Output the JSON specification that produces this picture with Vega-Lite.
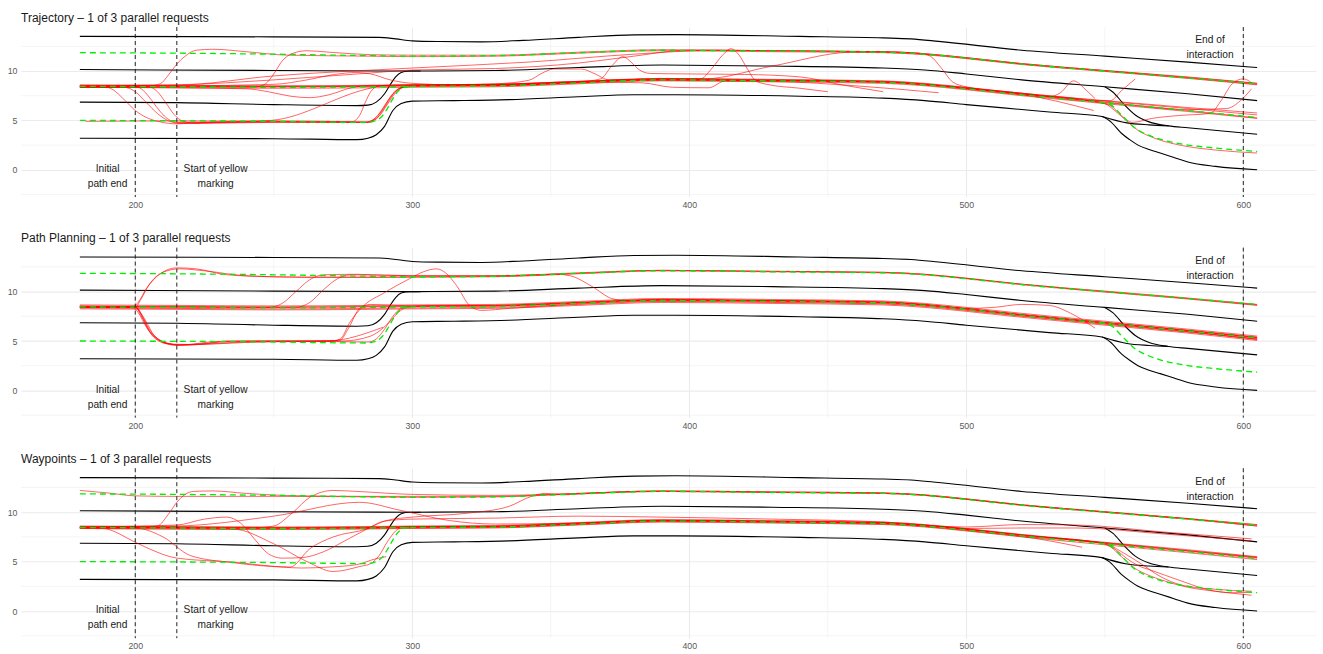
{
"$schema":"https://vega.github.io/schema/vega-lite/v6.json",
"padding":{"left":7,"top":11,"right":7,"bottom":5},
"spacing":21.6,
"config":{"view":{"stroke":null},"font":"Liberation Sans",
"axis":{"domain":false,"ticks":false,"labelColor":"#5a5a5a","labelFontSize":8.8,"gridColor":"#ebebeb","gridWidth":1.1,"title":null},
"title":{"anchor":"start","frame":"group","fontSize":12,"fontWeight":"normal","color":"#1a1a1a","offset":2,"baseline":"alphabetic"}},
"datasets":{
"minorx":[{"x":250},{"x":350},{"x":450},{"x":550}],
"minory":[{"y":-2.5},{"y":2.5},{"y":7.5},{"y":12.5}],
"road":[
{"id":"B1","x":180,"y":13.5},{"id":"B1","x":250,"y":13.45},{"id":"B1","x":288,"y":13.4},{"id":"B1","x":294,"y":13.25},{"id":"B1","x":300,"y":13.05},{"id":"B1","x":310,"y":12.98},{"id":"B1","x":325,"y":12.95},{"id":"B1","x":340,"y":13.1},{"id":"B1","x":360,"y":13.4},{"id":"B1","x":380,"y":13.65},{"id":"B1","x":395,"y":13.68},{"id":"B1","x":440,"y":13.5},{"id":"B1","x":470,"y":13.35},{"id":"B1","x":480,"y":13.25},{"id":"B1","x":490,"y":13.0},{"id":"B1","x":520,"y":12.1},{"id":"B1","x":550,"y":11.5},{"id":"B1","x":580,"y":10.9},{"id":"B1","x":605,"y":10.35},
{"id":"B2","x":180,"y":10.15},{"id":"B2","x":250,"y":10.05},{"id":"B2","x":300,"y":10.0},{"id":"B2","x":330,"y":10.05},{"id":"B2","x":360,"y":10.35},{"id":"B2","x":390,"y":10.6},{"id":"B2","x":430,"y":10.5},{"id":"B2","x":470,"y":10.3},{"id":"B2","x":485,"y":10.1},{"id":"B2","x":500,"y":9.7},{"id":"B2","x":520,"y":9.1},{"id":"B2","x":550,"y":8.4},{"id":"B2","x":580,"y":7.7},{"id":"B2","x":605,"y":7.0},
{"id":"B3","x":180,"y":6.85},{"id":"B3","x":215,"y":6.8},{"id":"B3","x":250,"y":6.6},{"id":"B3","x":280,"y":6.5},{"id":"B3","x":284,"y":6.55},{"id":"B3","x":287,"y":6.85},{"id":"B3","x":290,"y":7.7},{"id":"B3","x":292,"y":8.6},{"id":"B3","x":294,"y":9.4},{"id":"B3","x":296,"y":9.85},{"id":"B3","x":299,"y":10.0},{"id":"B3","x":303,"y":10.0},
{"id":"B4","x":180,"y":3.2},{"id":"B4","x":250,"y":3.15},{"id":"B4","x":280,"y":3.05},{"id":"B4","x":284,"y":3.2},{"id":"B4","x":287,"y":3.55},{"id":"B4","x":290,"y":4.4},{"id":"B4","x":293,"y":6.0},{"id":"B4","x":296,"y":6.7},{"id":"B4","x":300,"y":6.95},{"id":"B4","x":315,"y":7.0},{"id":"B4","x":335,"y":7.1},{"id":"B4","x":360,"y":7.4},{"id":"B4","x":380,"y":7.6},{"id":"B4","x":395,"y":7.6},{"id":"B4","x":440,"y":7.45},{"id":"B4","x":470,"y":7.25},{"id":"B4","x":485,"y":7.0},{"id":"B4","x":500,"y":6.6},{"id":"B4","x":520,"y":6.1},{"id":"B4","x":530,"y":5.85},{"id":"B4","x":549,"y":5.4},{"id":"B4","x":552,"y":4.9},{"id":"B4","x":556,"y":3.7},{"id":"B4","x":559,"y":3.05},{"id":"B4","x":562,"y":2.5},{"id":"B4","x":566,"y":2.05},{"id":"B4","x":570,"y":1.7},{"id":"B4","x":575,"y":1.25},{"id":"B4","x":580,"y":0.8},{"id":"B4","x":590,"y":0.35},{"id":"B4","x":605,"y":0.0},
{"id":"B5","x":550,"y":8.4},{"id":"B5","x":553,"y":7.85},{"id":"B5","x":557,"y":6.6},{"id":"B5","x":561,"y":5.55},{"id":"B5","x":566,"y":4.85},{"id":"B5","x":573,"y":4.45},{"id":"B5","x":580,"y":4.25},{"id":"B5","x":605,"y":3.6},
{"id":"B6","x":549,"y":5.4},{"id":"B6","x":558,"y":4.75},{"id":"B6","x":566,"y":4.55},{"id":"B6","x":573,"y":4.45}
],
"lanes":[
{"id":"G1","x":180,"y":11.85},{"id":"G1","x":215,"y":11.8},{"id":"G1","x":250,"y":11.7},{"id":"G1","x":285,"y":11.55},{"id":"G1","x":300,"y":11.5},{"id":"G1","x":330,"y":11.55},{"id":"G1","x":360,"y":11.85},{"id":"G1","x":390,"y":12.1},{"id":"G1","x":430,"y":12.0},{"id":"G1","x":470,"y":11.9},{"id":"G1","x":485,"y":11.7},{"id":"G1","x":500,"y":11.3},{"id":"G1","x":520,"y":10.7},{"id":"G1","x":550,"y":10.0},{"id":"G1","x":580,"y":9.3},{"id":"G1","x":605,"y":8.7},
{"id":"G2","x":180,"y":8.45},{"id":"G2","x":215,"y":8.4},{"id":"G2","x":250,"y":8.35},{"id":"G2","x":285,"y":8.4},{"id":"G2","x":300,"y":8.45},{"id":"G2","x":330,"y":8.5},{"id":"G2","x":360,"y":8.8},{"id":"G2","x":390,"y":9.1},{"id":"G2","x":430,"y":9.0},{"id":"G2","x":470,"y":8.85},{"id":"G2","x":485,"y":8.6},{"id":"G2","x":500,"y":8.2},{"id":"G2","x":520,"y":7.6},{"id":"G2","x":550,"y":6.8},{"id":"G2","x":580,"y":6.0},{"id":"G2","x":605,"y":5.3},
{"id":"G3","x":180,"y":5.0},{"id":"G3","x":250,"y":4.9},{"id":"G3","x":283,"y":4.8},{"id":"G3","x":286,"y":4.9},{"id":"G3","x":289,"y":5.4},{"id":"G3","x":291,"y":6.2},{"id":"G3","x":293,"y":7.2},{"id":"G3","x":295,"y":8.0},{"id":"G3","x":297,"y":8.35},{"id":"G3","x":300,"y":8.45},
{"id":"G4","x":548,"y":6.85},{"id":"G4","x":552,"y":6.6},{"id":"G4","x":556,"y":5.55},{"id":"G4","x":561,"y":4.2},{"id":"G4","x":565,"y":3.6},{"id":"G4","x":570,"y":3.1},{"id":"G4","x":578,"y":2.6},{"id":"G4","x":590,"y":2.2},{"id":"G4","x":605,"y":1.85}
],
"vlines":[{"x":200},{"x":215},{"x":600}],
"notes":[{"x":190,"y":0.09,"t":"Initial\npath end"},{"x":229,"y":0.09,"t":"Start of yellow\nmarking"},{"x":588,"y":13.09,"t":"End of\ninteraction"}],
"traj":[
{"p":1,"id":"a","x":180,"y":8.6},{"p":1,"id":"a","x":215,"y":8.55},{"p":1,"id":"a","x":250,"y":8.5},{"p":1,"id":"a","x":285,"y":8.55},{"p":1,"id":"a","x":300,"y":8.6},{"p":1,"id":"a","x":330,"y":8.65},{"p":1,"id":"a","x":360,"y":8.95},{"p":1,"id":"a","x":390,"y":9.25},{"p":1,"id":"a","x":430,"y":9.15},{"p":1,"id":"a","x":470,"y":9.0},{"p":1,"id":"a","x":485,"y":8.75},{"p":1,"id":"a","x":500,"y":8.35},{"p":1,"id":"a","x":520,"y":7.75},{"p":1,"id":"a","x":550,"y":6.95},{"p":1,"id":"a","x":580,"y":6.2},{"p":1,"id":"a","x":605,"y":5.55},
{"p":1,"id":"b","x":180,"y":8.35},{"p":1,"id":"b","x":215,"y":8.3},{"p":1,"id":"b","x":250,"y":8.25},{"p":1,"id":"b","x":285,"y":8.3},{"p":1,"id":"b","x":300,"y":8.35},{"p":1,"id":"b","x":330,"y":8.4},{"p":1,"id":"b","x":360,"y":8.7},{"p":1,"id":"b","x":390,"y":9.0},{"p":1,"id":"b","x":430,"y":8.9},{"p":1,"id":"b","x":470,"y":8.75},{"p":1,"id":"b","x":485,"y":8.5},{"p":1,"id":"b","x":500,"y":8.1},{"p":1,"id":"b","x":520,"y":7.5},{"p":1,"id":"b","x":550,"y":6.7},{"p":1,"id":"b","x":580,"y":5.9},{"p":1,"id":"b","x":605,"y":5.2},
{"p":1,"id":"c","x":180,"y":8.5},{"p":1,"id":"c","x":215,"y":8.45},{"p":1,"id":"c","x":250,"y":8.4},{"p":1,"id":"c","x":285,"y":8.45},{"p":1,"id":"c","x":300,"y":8.5},{"p":1,"id":"c","x":330,"y":8.55},{"p":1,"id":"c","x":360,"y":8.85},{"p":1,"id":"c","x":390,"y":9.15},{"p":1,"id":"c","x":430,"y":9.05},{"p":1,"id":"c","x":470,"y":8.9},{"p":1,"id":"c","x":485,"y":8.65},{"p":1,"id":"c","x":500,"y":8.3},{"p":1,"id":"c","x":520,"y":7.75},{"p":1,"id":"c","x":550,"y":7.0},{"p":1,"id":"c","x":580,"y":6.3},{"p":1,"id":"c","x":605,"y":5.75},
{"p":1,"id":"d","x":180,"y":8.5},{"p":1,"id":"d","x":205,"y":8.5},{"p":1,"id":"d","x":209,"y":8.7},{"p":1,"id":"d","x":212,"y":9.6},{"p":1,"id":"d","x":215,"y":10.7},{"p":1,"id":"d","x":218,"y":11.5},{"p":1,"id":"d","x":222,"y":12.1},{"p":1,"id":"d","x":228,"y":12.2},{"p":1,"id":"d","x":240,"y":11.95},{"p":1,"id":"d","x":255,"y":11.6},{"p":1,"id":"d","x":285,"y":11.5},{"p":1,"id":"d","x":300,"y":11.45},{"p":1,"id":"d","x":330,"y":11.5},{"p":1,"id":"d","x":360,"y":11.8},{"p":1,"id":"d","x":390,"y":12.05},{"p":1,"id":"d","x":430,"y":11.95},{"p":1,"id":"d","x":470,"y":11.85},{"p":1,"id":"d","x":485,"y":11.65},{"p":1,"id":"d","x":500,"y":11.25},{"p":1,"id":"d","x":520,"y":10.65},{"p":1,"id":"d","x":550,"y":9.95},{"p":1,"id":"d","x":580,"y":9.25},{"p":1,"id":"d","x":605,"y":8.6},
{"p":1,"id":"e","x":180,"y":8.4},{"p":1,"id":"e","x":215,"y":8.35},{"p":1,"id":"e","x":243,"y":8.35},{"p":1,"id":"e","x":247,"y":8.7},{"p":1,"id":"e","x":250,"y":9.7},{"p":1,"id":"e","x":253,"y":11.0},{"p":1,"id":"e","x":257,"y":11.8},{"p":1,"id":"e","x":262,"y":12.05},{"p":1,"id":"e","x":270,"y":11.9},{"p":1,"id":"e","x":285,"y":11.65},{"p":1,"id":"e","x":300,"y":11.6},{"p":1,"id":"e","x":330,"y":11.6},{"p":1,"id":"e","x":360,"y":11.9},{"p":1,"id":"e","x":390,"y":12.15},{"p":1,"id":"e","x":430,"y":12.05},{"p":1,"id":"e","x":470,"y":11.95},{"p":1,"id":"e","x":485,"y":11.75},{"p":1,"id":"e","x":500,"y":11.35},{"p":1,"id":"e","x":520,"y":10.75},{"p":1,"id":"e","x":550,"y":10.05},{"p":1,"id":"e","x":580,"y":9.35},{"p":1,"id":"e","x":605,"y":8.75},
{"p":1,"id":"f","x":180,"y":8.45},{"p":1,"id":"f","x":188,"y":8.45},{"p":1,"id":"f","x":192,"y":8.1},{"p":1,"id":"f","x":196,"y":7.1},{"p":1,"id":"f","x":200,"y":6.0},{"p":1,"id":"f","x":204,"y":5.3},{"p":1,"id":"f","x":209,"y":4.85},{"p":1,"id":"f","x":215,"y":4.65},{"p":1,"id":"f","x":225,"y":4.8},{"p":1,"id":"f","x":250,"y":4.95},{"p":1,"id":"f","x":270,"y":4.9},{"p":1,"id":"f","x":283,"y":4.85},{"p":1,"id":"f","x":287,"y":5.2},{"p":1,"id":"f","x":290,"y":6.3},{"p":1,"id":"f","x":293,"y":7.6},{"p":1,"id":"f","x":296,"y":8.3},{"p":1,"id":"f","x":300,"y":8.5},{"p":1,"id":"f","x":330,"y":8.55},{"p":1,"id":"f","x":360,"y":8.85},{"p":1,"id":"f","x":390,"y":9.15},{"p":1,"id":"f","x":430,"y":9.05},{"p":1,"id":"f","x":470,"y":8.9},{"p":1,"id":"f","x":485,"y":8.6},{"p":1,"id":"f","x":500,"y":8.2},{"p":1,"id":"f","x":520,"y":7.6},{"p":1,"id":"f","x":550,"y":6.8},{"p":1,"id":"f","x":580,"y":6.0},{"p":1,"id":"f","x":605,"y":5.25},
{"p":1,"id":"g","x":180,"y":8.45},{"p":1,"id":"g","x":200,"y":8.45},{"p":1,"id":"g","x":203,"y":8.0},{"p":1,"id":"g","x":206,"y":7.0},{"p":1,"id":"g","x":209,"y":5.9},{"p":1,"id":"g","x":212,"y":5.1},{"p":1,"id":"g","x":216,"y":4.75},{"p":1,"id":"g","x":225,"y":4.75},{"p":1,"id":"g","x":250,"y":4.85},{"p":1,"id":"g","x":284,"y":4.8},{"p":1,"id":"g","x":287,"y":5.3},{"p":1,"id":"g","x":290,"y":6.5},{"p":1,"id":"g","x":293,"y":7.7},{"p":1,"id":"g","x":296,"y":8.3},{"p":1,"id":"g","x":300,"y":8.45},{"p":1,"id":"g","x":330,"y":8.5},{"p":1,"id":"g","x":360,"y":8.8},{"p":1,"id":"g","x":390,"y":9.1},{"p":1,"id":"g","x":430,"y":9.0},{"p":1,"id":"g","x":470,"y":8.85},{"p":1,"id":"g","x":485,"y":8.6},{"p":1,"id":"g","x":500,"y":8.2},{"p":1,"id":"g","x":520,"y":7.6},{"p":1,"id":"g","x":545,"y":6.95},{"p":1,"id":"g","x":550,"y":6.7},{"p":1,"id":"g","x":554,"y":5.9},{"p":1,"id":"g","x":558,"y":4.9},{"p":1,"id":"g","x":562,"y":4.0},{"p":1,"id":"g","x":568,"y":3.2},{"p":1,"id":"g","x":578,"y":2.45},{"p":1,"id":"g","x":590,"y":2.0},{"p":1,"id":"g","x":605,"y":1.7},
{"p":1,"id":"h","x":180,"y":8.4},{"p":1,"id":"h","x":205,"y":8.4},{"p":1,"id":"h","x":208,"y":7.9},{"p":1,"id":"h","x":211,"y":6.8},{"p":1,"id":"h","x":214,"y":5.6},{"p":1,"id":"h","x":217,"y":4.95},{"p":1,"id":"h","x":222,"y":4.7},{"p":1,"id":"h","x":250,"y":4.8},{"p":1,"id":"h","x":283,"y":4.8},{"p":1,"id":"h","x":286,"y":5.1},{"p":1,"id":"h","x":289,"y":6.0},{"p":1,"id":"h","x":292,"y":7.3},{"p":1,"id":"h","x":295,"y":8.2},{"p":1,"id":"h","x":300,"y":8.5},{"p":1,"id":"h","x":330,"y":8.6},{"p":1,"id":"h","x":360,"y":8.9},{"p":1,"id":"h","x":390,"y":9.2},{"p":1,"id":"h","x":404,"y":9.2},{"p":1,"id":"h","x":408,"y":10.2},{"p":1,"id":"h","x":412,"y":11.6},{"p":1,"id":"h","x":415,"y":12.25},{"p":1,"id":"h","x":418,"y":11.6},{"p":1,"id":"h","x":421,"y":10.2},{"p":1,"id":"h","x":424,"y":9.0},{"p":1,"id":"h","x":428,"y":8.65},{"p":1,"id":"h","x":440,"y":8.25},{"p":1,"id":"h","x":450,"y":7.9},
{"p":1,"id":"i","x":182,"y":4.9},{"p":1,"id":"i","x":215,"y":4.95},{"p":1,"id":"i","x":250,"y":4.9},{"p":1,"id":"i","x":270,"y":4.85},{"p":1,"id":"i","x":284,"y":4.8},{"p":1,"id":"i","x":288,"y":5.4},{"p":1,"id":"i","x":291,"y":6.6},{"p":1,"id":"i","x":294,"y":7.8},{"p":1,"id":"i","x":297,"y":8.35},{"p":1,"id":"i","x":305,"y":8.55},{"p":1,"id":"i","x":330,"y":8.6},{"p":1,"id":"i","x":360,"y":8.9},{"p":1,"id":"i","x":368,"y":9.2},{"p":1,"id":"i","x":372,"y":10.5},{"p":1,"id":"i","x":376,"y":11.45},{"p":1,"id":"i","x":379,"y":10.9},{"p":1,"id":"i","x":382,"y":10.1},{"p":1,"id":"i","x":386,"y":9.75},{"p":1,"id":"i","x":400,"y":9.7},{"p":1,"id":"i","x":420,"y":9.65},{"p":1,"id":"i","x":440,"y":9.4},{"p":1,"id":"i","x":455,"y":8.6},{"p":1,"id":"i","x":470,"y":7.9},
{"p":1,"id":"j","x":180,"y":8.35},{"p":1,"id":"j","x":196,"y":8.35},{"p":1,"id":"j","x":200,"y":7.9},{"p":1,"id":"j","x":204,"y":6.8},{"p":1,"id":"j","x":208,"y":5.7},{"p":1,"id":"j","x":212,"y":4.95},{"p":1,"id":"j","x":216,"y":4.7},{"p":1,"id":"j","x":230,"y":4.8},{"p":1,"id":"j","x":249,"y":5.0},{"p":1,"id":"j","x":284,"y":8.2},{"p":1,"id":"j","x":290,"y":8.55},{"p":1,"id":"j","x":300,"y":8.6},{"p":1,"id":"j","x":330,"y":8.65},{"p":1,"id":"j","x":360,"y":8.9},{"p":1,"id":"j","x":383,"y":8.8},{"p":1,"id":"j","x":394,"y":8.35},{"p":1,"id":"j","x":407,"y":8.3},{"p":1,"id":"j","x":413,"y":9.0},{"p":1,"id":"j","x":430,"y":9.05},{"p":1,"id":"j","x":470,"y":8.9},{"p":1,"id":"j","x":485,"y":8.65},{"p":1,"id":"j","x":500,"y":8.25},{"p":1,"id":"j","x":520,"y":7.65},{"p":1,"id":"j","x":546,"y":6.0},
{"p":1,"id":"k","x":215,"y":4.8},{"p":1,"id":"k","x":250,"y":4.85},{"p":1,"id":"k","x":278,"y":4.85},{"p":1,"id":"k","x":281,"y":5.5},{"p":1,"id":"k","x":283,"y":6.8},{"p":1,"id":"k","x":285,"y":7.9},{"p":1,"id":"k","x":288,"y":8.5},{"p":1,"id":"k","x":300,"y":8.6},{"p":1,"id":"k","x":330,"y":8.65},{"p":1,"id":"k","x":360,"y":8.95},{"p":1,"id":"k","x":390,"y":9.2},{"p":1,"id":"k","x":405,"y":9.2},{"p":1,"id":"k","x":430,"y":10.5},{"p":1,"id":"k","x":458,"y":11.9},{"p":1,"id":"k","x":470,"y":11.95},{"p":1,"id":"k","x":485,"y":11.75},{"p":1,"id":"k","x":500,"y":11.35},{"p":1,"id":"k","x":520,"y":10.75},{"p":1,"id":"k","x":550,"y":10.05},{"p":1,"id":"k","x":580,"y":9.4},{"p":1,"id":"k","x":605,"y":8.75},
{"p":1,"id":"l","x":180,"y":8.5},{"p":1,"id":"l","x":215,"y":8.5},{"p":1,"id":"l","x":250,"y":8.65},{"p":1,"id":"l","x":262,"y":9.1},{"p":1,"id":"l","x":272,"y":9.65},{"p":1,"id":"l","x":280,"y":9.85},{"p":1,"id":"l","x":285,"y":9.7},{"p":1,"id":"l","x":292,"y":9.1},{"p":1,"id":"l","x":300,"y":8.75},{"p":1,"id":"l","x":315,"y":8.6},{"p":1,"id":"l","x":330,"y":8.7},{"p":1,"id":"l","x":342,"y":9.05},{"p":1,"id":"l","x":347,"y":9.8},{"p":1,"id":"l","x":351,"y":10.2},{"p":1,"id":"l","x":361,"y":10.2},{"p":1,"id":"l","x":366,"y":9.7},{"p":1,"id":"l","x":371,"y":9.1},{"p":1,"id":"l","x":390,"y":9.05},{"p":1,"id":"l","x":430,"y":8.95},{"p":1,"id":"l","x":460,"y":8.5},{"p":1,"id":"l","x":490,"y":7.8},
{"p":1,"id":"m","x":180,"y":8.35},{"p":1,"id":"m","x":215,"y":8.3},{"p":1,"id":"m","x":240,"y":8.2},{"p":1,"id":"m","x":248,"y":7.9},{"p":1,"id":"m","x":256,"y":7.45},{"p":1,"id":"m","x":263,"y":7.3},{"p":1,"id":"m","x":270,"y":7.6},{"p":1,"id":"m","x":278,"y":8.3},{"p":1,"id":"m","x":285,"y":8.55},{"p":1,"id":"m","x":300,"y":8.5},{"p":1,"id":"m","x":330,"y":8.5},{"p":1,"id":"m","x":360,"y":8.8},{"p":1,"id":"m","x":390,"y":9.1},{"p":1,"id":"m","x":430,"y":9.0},{"p":1,"id":"m","x":470,"y":8.85},{"p":1,"id":"m","x":485,"y":8.6},{"p":1,"id":"m","x":500,"y":8.2},{"p":1,"id":"m","x":520,"y":7.65},{"p":1,"id":"m","x":530,"y":7.4},{"p":1,"id":"m","x":534,"y":7.8},{"p":1,"id":"m","x":538.7,"y":9.0},{"p":1,"id":"m","x":543.5,"y":8.0},{"p":1,"id":"m","x":546.5,"y":7.2},
{"p":1,"id":"n","x":180,"y":8.5},{"p":1,"id":"n","x":215,"y":8.6},{"p":1,"id":"n","x":250,"y":9.1},{"p":1,"id":"n","x":285,"y":9.8},{"p":1,"id":"n","x":300,"y":10.1},{"p":1,"id":"n","x":330,"y":10.25},{"p":1,"id":"n","x":360,"y":10.8},{"p":1,"id":"n","x":380,"y":11.5},{"p":1,"id":"n","x":399,"y":12.1},{"p":1,"id":"n","x":430,"y":12.05},{"p":1,"id":"n","x":470,"y":11.95},{"p":1,"id":"n","x":483,"y":11.8},{"p":1,"id":"n","x":487,"y":11.5},{"p":1,"id":"n","x":491,"y":10.3},{"p":1,"id":"n","x":495,"y":8.9},{"p":1,"id":"n","x":500,"y":8.4},{"p":1,"id":"n","x":520,"y":7.75},{"p":1,"id":"n","x":545,"y":7.0},{"p":1,"id":"n","x":552,"y":7.0},{"p":1,"id":"n","x":556,"y":8.0},{"p":1,"id":"n","x":561,"y":9.2},
{"p":1,"id":"o","x":180,"y":8.4},{"p":1,"id":"o","x":215,"y":8.45},{"p":1,"id":"o","x":250,"y":8.4},{"p":1,"id":"o","x":285,"y":8.45},{"p":1,"id":"o","x":300,"y":8.5},{"p":1,"id":"o","x":330,"y":8.55},{"p":1,"id":"o","x":360,"y":8.85},{"p":1,"id":"o","x":390,"y":9.15},{"p":1,"id":"o","x":430,"y":9.05},{"p":1,"id":"o","x":470,"y":8.9},{"p":1,"id":"o","x":485,"y":8.65},{"p":1,"id":"o","x":500,"y":8.25},{"p":1,"id":"o","x":520,"y":7.65},{"p":1,"id":"o","x":545,"y":6.95},{"p":1,"id":"o","x":552,"y":6.5},{"p":1,"id":"o","x":556,"y":5.5},{"p":1,"id":"o","x":560,"y":4.8},{"p":1,"id":"o","x":567,"y":5.2},{"p":1,"id":"o","x":577,"y":5.5},{"p":1,"id":"o","x":588,"y":5.7},{"p":1,"id":"o","x":592,"y":7.0},{"p":1,"id":"o","x":596,"y":8.7},{"p":1,"id":"o","x":600,"y":9.2},{"p":1,"id":"o","x":603,"y":8.8},
{"p":1,"id":"pp","x":215,"y":8.45},{"p":1,"id":"pp","x":250,"y":8.45},{"p":1,"id":"pp","x":285,"y":8.5},{"p":1,"id":"pp","x":300,"y":8.55},{"p":1,"id":"pp","x":330,"y":8.6},{"p":1,"id":"pp","x":360,"y":8.9},{"p":1,"id":"pp","x":390,"y":9.2},{"p":1,"id":"pp","x":430,"y":9.1},{"p":1,"id":"pp","x":470,"y":8.95},{"p":1,"id":"pp","x":485,"y":8.7},{"p":1,"id":"pp","x":500,"y":8.3},{"p":1,"id":"pp","x":520,"y":7.7},{"p":1,"id":"pp","x":550,"y":6.85},{"p":1,"id":"pp","x":580,"y":6.1},{"p":1,"id":"pp","x":594,"y":6.2},{"p":1,"id":"pp","x":599,"y":7.0},{"p":1,"id":"pp","x":603,"y":8.2},
{"p":1,"id":"q","x":180,"y":8.45},{"p":1,"id":"q","x":215,"y":8.55},{"p":1,"id":"q","x":250,"y":9.5},{"p":1,"id":"q","x":300,"y":10.3},{"p":1,"id":"q","x":342,"y":10.9},{"p":1,"id":"q","x":380,"y":11.7},{"p":1,"id":"q","x":410,"y":12.1},{"p":1,"id":"q","x":430,"y":12.05},{"p":1,"id":"q","x":470,"y":11.9},{"p":1,"id":"q","x":485,"y":11.7},{"p":1,"id":"q","x":500,"y":11.3},{"p":1,"id":"q","x":520,"y":10.7},{"p":1,"id":"q","x":550,"y":10.0},{"p":1,"id":"q","x":580,"y":9.3},{"p":1,"id":"q","x":605,"y":8.65},

{"p":2,"id":"a","x":180,"y":8.65},{"p":2,"id":"a","x":215,"y":8.6},{"p":2,"id":"a","x":250,"y":8.55},{"p":2,"id":"a","x":285,"y":8.6},{"p":2,"id":"a","x":300,"y":8.65},{"p":2,"id":"a","x":330,"y":8.7},{"p":2,"id":"a","x":360,"y":9.0},{"p":2,"id":"a","x":390,"y":9.3},{"p":2,"id":"a","x":430,"y":9.2},{"p":2,"id":"a","x":470,"y":9.05},{"p":2,"id":"a","x":485,"y":8.8},{"p":2,"id":"a","x":500,"y":8.4},{"p":2,"id":"a","x":520,"y":7.8},{"p":2,"id":"a","x":550,"y":7.0},{"p":2,"id":"a","x":580,"y":6.2},{"p":2,"id":"a","x":605,"y":5.5},
{"p":2,"id":"b","x":180,"y":8.5},{"p":2,"id":"b","x":215,"y":8.45},{"p":2,"id":"b","x":250,"y":8.4},{"p":2,"id":"b","x":285,"y":8.45},{"p":2,"id":"b","x":300,"y":8.5},{"p":2,"id":"b","x":330,"y":8.55},{"p":2,"id":"b","x":360,"y":8.85},{"p":2,"id":"b","x":390,"y":9.15},{"p":2,"id":"b","x":430,"y":9.05},{"p":2,"id":"b","x":470,"y":8.9},{"p":2,"id":"b","x":485,"y":8.65},{"p":2,"id":"b","x":500,"y":8.25},{"p":2,"id":"b","x":520,"y":7.65},{"p":2,"id":"b","x":550,"y":6.85},{"p":2,"id":"b","x":580,"y":6.05},{"p":2,"id":"b","x":605,"y":5.35},
{"p":2,"id":"c","x":180,"y":8.35},{"p":2,"id":"c","x":215,"y":8.3},{"p":2,"id":"c","x":250,"y":8.25},{"p":2,"id":"c","x":285,"y":8.3},{"p":2,"id":"c","x":300,"y":8.35},{"p":2,"id":"c","x":330,"y":8.4},{"p":2,"id":"c","x":360,"y":8.7},{"p":2,"id":"c","x":390,"y":9.0},{"p":2,"id":"c","x":430,"y":8.9},{"p":2,"id":"c","x":470,"y":8.75},{"p":2,"id":"c","x":485,"y":8.5},{"p":2,"id":"c","x":500,"y":8.1},{"p":2,"id":"c","x":520,"y":7.5},{"p":2,"id":"c","x":550,"y":6.7},{"p":2,"id":"c","x":580,"y":5.9},{"p":2,"id":"c","x":605,"y":5.2},
{"p":2,"id":"d","x":180,"y":8.25},{"p":2,"id":"d","x":215,"y":8.2},{"p":2,"id":"d","x":250,"y":8.15},{"p":2,"id":"d","x":285,"y":8.2},{"p":2,"id":"d","x":300,"y":8.25},{"p":2,"id":"d","x":330,"y":8.3},{"p":2,"id":"d","x":360,"y":8.6},{"p":2,"id":"d","x":390,"y":8.9},{"p":2,"id":"d","x":430,"y":8.8},{"p":2,"id":"d","x":470,"y":8.65},{"p":2,"id":"d","x":485,"y":8.4},{"p":2,"id":"d","x":500,"y":8.0},{"p":2,"id":"d","x":520,"y":7.4},{"p":2,"id":"d","x":550,"y":6.6},{"p":2,"id":"d","x":580,"y":5.8},{"p":2,"id":"d","x":605,"y":5.05},
{"p":2,"id":"e","x":180,"y":8.5},{"p":2,"id":"e","x":199,"y":8.45},{"p":2,"id":"e","x":201,"y":8.9},{"p":2,"id":"e","x":204,"y":10.3},{"p":2,"id":"e","x":209,"y":11.8},{"p":2,"id":"e","x":215,"y":12.4},{"p":2,"id":"e","x":222,"y":12.3},{"p":2,"id":"e","x":233,"y":11.7},{"p":2,"id":"e","x":250,"y":11.5},{"p":2,"id":"e","x":270,"y":11.45},{"p":2,"id":"e","x":285,"y":11.45},{"p":2,"id":"e","x":300,"y":11.5},{"p":2,"id":"e","x":330,"y":11.55},{"p":2,"id":"e","x":360,"y":11.85},{"p":2,"id":"e","x":390,"y":12.15},{"p":2,"id":"e","x":430,"y":12.05},{"p":2,"id":"e","x":470,"y":11.95},{"p":2,"id":"e","x":485,"y":11.75},{"p":2,"id":"e","x":500,"y":11.35},{"p":2,"id":"e","x":520,"y":10.75},{"p":2,"id":"e","x":550,"y":10.0},{"p":2,"id":"e","x":580,"y":9.3},{"p":2,"id":"e","x":605,"y":8.65},
{"p":2,"id":"f","x":180,"y":8.4},{"p":2,"id":"f","x":200,"y":8.4},{"p":2,"id":"f","x":202,"y":9.2},{"p":2,"id":"f","x":205,"y":10.7},{"p":2,"id":"f","x":210,"y":11.95},{"p":2,"id":"f","x":216,"y":12.3},{"p":2,"id":"f","x":225,"y":12.1},{"p":2,"id":"f","x":240,"y":11.6},{"p":2,"id":"f","x":260,"y":11.45},{"p":2,"id":"f","x":285,"y":11.45},{"p":2,"id":"f","x":300,"y":11.45},{"p":2,"id":"f","x":330,"y":11.5},{"p":2,"id":"f","x":360,"y":11.8},{"p":2,"id":"f","x":390,"y":12.1},{"p":2,"id":"f","x":430,"y":12.0},{"p":2,"id":"f","x":470,"y":11.9},{"p":2,"id":"f","x":485,"y":11.7},{"p":2,"id":"f","x":500,"y":11.3},{"p":2,"id":"f","x":520,"y":10.7},{"p":2,"id":"f","x":550,"y":9.95},{"p":2,"id":"f","x":580,"y":9.25},{"p":2,"id":"f","x":605,"y":8.6},
{"p":2,"id":"g","x":180,"y":8.45},{"p":2,"id":"g","x":199,"y":8.4},{"p":2,"id":"g","x":201,"y":7.9},{"p":2,"id":"g","x":204,"y":6.4},{"p":2,"id":"g","x":209,"y":5.05},{"p":2,"id":"g","x":215,"y":4.55},{"p":2,"id":"g","x":225,"y":4.7},{"p":2,"id":"g","x":233,"y":5.0},{"p":2,"id":"g","x":250,"y":5.0},{"p":2,"id":"g","x":270,"y":4.95},{"p":2,"id":"g","x":284,"y":4.9},{"p":2,"id":"g","x":287,"y":5.2},{"p":2,"id":"g","x":290,"y":6.2},{"p":2,"id":"g","x":293,"y":7.5},{"p":2,"id":"g","x":296,"y":8.3},{"p":2,"id":"g","x":300,"y":8.5},{"p":2,"id":"g","x":330,"y":8.6},{"p":2,"id":"g","x":360,"y":8.9},{"p":2,"id":"g","x":390,"y":9.2},{"p":2,"id":"g","x":430,"y":9.1},{"p":2,"id":"g","x":470,"y":8.95},{"p":2,"id":"g","x":485,"y":8.7},{"p":2,"id":"g","x":500,"y":8.3},{"p":2,"id":"g","x":520,"y":7.7},{"p":2,"id":"g","x":550,"y":6.9},{"p":2,"id":"g","x":580,"y":6.1},{"p":2,"id":"g","x":605,"y":5.4},
{"p":2,"id":"h","x":180,"y":8.5},{"p":2,"id":"h","x":200,"y":8.45},{"p":2,"id":"h","x":202,"y":7.6},{"p":2,"id":"h","x":205,"y":6.0},{"p":2,"id":"h","x":210,"y":4.9},{"p":2,"id":"h","x":216,"y":4.6},{"p":2,"id":"h","x":230,"y":4.95},{"p":2,"id":"h","x":250,"y":5.0},{"p":2,"id":"h","x":270,"y":5.0},{"p":2,"id":"h","x":274,"y":5.1},{"p":2,"id":"h","x":277,"y":6.3},{"p":2,"id":"h","x":281,"y":8.3},{"p":2,"id":"h","x":285,"y":8.7},{"p":2,"id":"h","x":300,"y":8.55},{"p":2,"id":"h","x":330,"y":8.55},{"p":2,"id":"h","x":360,"y":8.85},{"p":2,"id":"h","x":390,"y":9.15},{"p":2,"id":"h","x":430,"y":9.05},{"p":2,"id":"h","x":470,"y":8.9},{"p":2,"id":"h","x":485,"y":8.65},{"p":2,"id":"h","x":500,"y":8.25},{"p":2,"id":"h","x":520,"y":7.6},{"p":2,"id":"h","x":550,"y":6.8},{"p":2,"id":"h","x":580,"y":5.95},{"p":2,"id":"h","x":605,"y":5.15},
{"p":2,"id":"i","x":180,"y":8.4},{"p":2,"id":"i","x":200,"y":8.4},{"p":2,"id":"i","x":203,"y":7.2},{"p":2,"id":"i","x":206,"y":5.6},{"p":2,"id":"i","x":211,"y":4.75},{"p":2,"id":"i","x":217,"y":4.6},{"p":2,"id":"i","x":240,"y":4.9},{"p":2,"id":"i","x":260,"y":4.95},{"p":2,"id":"i","x":270,"y":5.0},{"p":2,"id":"i","x":289.5,"y":6.4},
{"p":2,"id":"j","x":180,"y":8.45},{"p":2,"id":"j","x":200,"y":8.45},{"p":2,"id":"j","x":203,"y":7.4},{"p":2,"id":"j","x":207,"y":5.5},{"p":2,"id":"j","x":212,"y":4.7},{"p":2,"id":"j","x":220,"y":4.65},{"p":2,"id":"j","x":250,"y":4.95},{"p":2,"id":"j","x":275,"y":5.0},{"p":2,"id":"j","x":285,"y":5.5},{"p":2,"id":"j","x":291,"y":6.7},{"p":2,"id":"j","x":295,"y":7.9},{"p":2,"id":"j","x":298,"y":8.4},{"p":2,"id":"j","x":305,"y":8.55},{"p":2,"id":"j","x":330,"y":8.55},{"p":2,"id":"j","x":360,"y":8.85},{"p":2,"id":"j","x":390,"y":9.15},{"p":2,"id":"j","x":430,"y":9.05},{"p":2,"id":"j","x":470,"y":8.9},{"p":2,"id":"j","x":485,"y":8.65},{"p":2,"id":"j","x":500,"y":8.25},{"p":2,"id":"j","x":520,"y":7.65},{"p":2,"id":"j","x":550,"y":6.85},{"p":2,"id":"j","x":580,"y":6.05},{"p":2,"id":"j","x":605,"y":5.3},
{"p":2,"id":"k","x":180,"y":8.5},{"p":2,"id":"k","x":215,"y":8.45},{"p":2,"id":"k","x":248,"y":8.4},{"p":2,"id":"k","x":253,"y":8.8},{"p":2,"id":"k","x":258,"y":10.0},{"p":2,"id":"k","x":263,"y":11.2},{"p":2,"id":"k","x":268,"y":11.7},{"p":2,"id":"k","x":280,"y":11.75},{"p":2,"id":"k","x":300,"y":11.6},{"p":2,"id":"k","x":330,"y":11.6},{"p":2,"id":"k","x":360,"y":11.9},{"p":2,"id":"k","x":390,"y":12.15},{"p":2,"id":"k","x":430,"y":12.05},{"p":2,"id":"k","x":470,"y":11.95},{"p":2,"id":"k","x":485,"y":11.75},{"p":2,"id":"k","x":500,"y":11.35},{"p":2,"id":"k","x":520,"y":10.75},{"p":2,"id":"k","x":550,"y":10.05},{"p":2,"id":"k","x":580,"y":9.35},{"p":2,"id":"k","x":605,"y":8.7},
{"p":2,"id":"l","x":180,"y":8.4},{"p":2,"id":"l","x":215,"y":8.35},{"p":2,"id":"l","x":258,"y":8.4},{"p":2,"id":"l","x":263,"y":8.9},{"p":2,"id":"l","x":268,"y":10.2},{"p":2,"id":"l","x":273,"y":11.3},{"p":2,"id":"l","x":278,"y":11.7},{"p":2,"id":"l","x":300,"y":11.6},{"p":2,"id":"l","x":330,"y":11.6},{"p":2,"id":"l","x":352,"y":11.75},{"p":2,"id":"l","x":357,"y":11.6},{"p":2,"id":"l","x":365,"y":10.5},{"p":2,"id":"l","x":372,"y":9.3},{"p":2,"id":"l","x":378,"y":9.05},{"p":2,"id":"l","x":390,"y":9.15},{"p":2,"id":"l","x":430,"y":9.05},{"p":2,"id":"l","x":470,"y":8.9},{"p":2,"id":"l","x":485,"y":8.65},{"p":2,"id":"l","x":500,"y":8.25},{"p":2,"id":"l","x":520,"y":7.65},{"p":2,"id":"l","x":550,"y":6.85},{"p":2,"id":"l","x":580,"y":6.05},{"p":2,"id":"l","x":605,"y":5.35},
{"p":2,"id":"m","x":180,"y":8.45},{"p":2,"id":"m","x":200,"y":8.45},{"p":2,"id":"m","x":202,"y":7.8},{"p":2,"id":"m","x":205,"y":6.2},{"p":2,"id":"m","x":210,"y":4.95},{"p":2,"id":"m","x":216,"y":4.6},{"p":2,"id":"m","x":235,"y":4.95},{"p":2,"id":"m","x":260,"y":5.0},{"p":2,"id":"m","x":272,"y":5.05},{"p":2,"id":"m","x":274,"y":5.2},{"p":2,"id":"m","x":277.5,"y":6.9},{"p":2,"id":"m","x":282,"y":8.45},{"p":2,"id":"m","x":290,"y":9.9},{"p":2,"id":"m","x":299,"y":11.3},{"p":2,"id":"m","x":304,"y":12.0},{"p":2,"id":"m","x":308.7,"y":12.3},{"p":2,"id":"m","x":312,"y":11.9},{"p":2,"id":"m","x":316,"y":10.6},{"p":2,"id":"m","x":320.7,"y":8.6},{"p":2,"id":"m","x":325,"y":8.1},{"p":2,"id":"m","x":335,"y":8.3},{"p":2,"id":"m","x":360,"y":8.75},{"p":2,"id":"m","x":390,"y":9.05},{"p":2,"id":"m","x":430,"y":8.95},{"p":2,"id":"m","x":470,"y":8.8},{"p":2,"id":"m","x":485,"y":8.55},{"p":2,"id":"m","x":500,"y":8.15},{"p":2,"id":"m","x":520,"y":7.55},{"p":2,"id":"m","x":550,"y":6.75},{"p":2,"id":"m","x":580,"y":5.95},{"p":2,"id":"m","x":605,"y":5.2},
{"p":2,"id":"n","x":180,"y":8.55},{"p":2,"id":"n","x":215,"y":8.5},{"p":2,"id":"n","x":250,"y":8.45},{"p":2,"id":"n","x":285,"y":8.5},{"p":2,"id":"n","x":300,"y":8.55},{"p":2,"id":"n","x":330,"y":8.6},{"p":2,"id":"n","x":360,"y":8.9},{"p":2,"id":"n","x":390,"y":9.2},{"p":2,"id":"n","x":430,"y":9.1},{"p":2,"id":"n","x":470,"y":8.95},{"p":2,"id":"n","x":485,"y":8.7},{"p":2,"id":"n","x":500,"y":8.3},{"p":2,"id":"n","x":510,"y":8.4},{"p":2,"id":"n","x":520,"y":8.7},{"p":2,"id":"n","x":530,"y":8.6},{"p":2,"id":"n","x":537,"y":7.9},{"p":2,"id":"n","x":546.5,"y":6.3},

{"p":3,"id":"a","x":180,"y":8.6},{"p":3,"id":"a","x":215,"y":8.55},{"p":3,"id":"a","x":250,"y":8.5},{"p":3,"id":"a","x":285,"y":8.55},{"p":3,"id":"a","x":300,"y":8.6},{"p":3,"id":"a","x":330,"y":8.65},{"p":3,"id":"a","x":360,"y":8.95},{"p":3,"id":"a","x":390,"y":9.25},{"p":3,"id":"a","x":430,"y":9.15},{"p":3,"id":"a","x":470,"y":9.0},{"p":3,"id":"a","x":485,"y":8.75},{"p":3,"id":"a","x":500,"y":8.35},{"p":3,"id":"a","x":520,"y":7.75},{"p":3,"id":"a","x":550,"y":6.95},{"p":3,"id":"a","x":580,"y":6.2},{"p":3,"id":"a","x":605,"y":5.5},
{"p":3,"id":"b","x":180,"y":8.35},{"p":3,"id":"b","x":215,"y":8.3},{"p":3,"id":"b","x":250,"y":8.25},{"p":3,"id":"b","x":285,"y":8.3},{"p":3,"id":"b","x":300,"y":8.35},{"p":3,"id":"b","x":330,"y":8.4},{"p":3,"id":"b","x":360,"y":8.7},{"p":3,"id":"b","x":390,"y":9.0},{"p":3,"id":"b","x":430,"y":8.9},{"p":3,"id":"b","x":470,"y":8.75},{"p":3,"id":"b","x":485,"y":8.5},{"p":3,"id":"b","x":500,"y":8.1},{"p":3,"id":"b","x":520,"y":7.5},{"p":3,"id":"b","x":550,"y":6.7},{"p":3,"id":"b","x":580,"y":5.9},{"p":3,"id":"b","x":605,"y":5.2},
{"p":3,"id":"c","x":180,"y":8.45},{"p":3,"id":"c","x":215,"y":8.4},{"p":3,"id":"c","x":250,"y":8.35},{"p":3,"id":"c","x":285,"y":8.4},{"p":3,"id":"c","x":300,"y":8.45},{"p":3,"id":"c","x":330,"y":8.5},{"p":3,"id":"c","x":360,"y":8.8},{"p":3,"id":"c","x":390,"y":9.1},{"p":3,"id":"c","x":430,"y":9.0},{"p":3,"id":"c","x":470,"y":8.85},{"p":3,"id":"c","x":485,"y":8.6},{"p":3,"id":"c","x":500,"y":8.2},{"p":3,"id":"c","x":520,"y":7.55},{"p":3,"id":"c","x":530,"y":7.1},{"p":3,"id":"c","x":541.8,"y":6.45},
{"p":3,"id":"d","x":180,"y":12.2},{"p":3,"id":"d","x":190,"y":11.95},{"p":3,"id":"d","x":200,"y":11.65},{"p":3,"id":"d","x":215,"y":11.6},{"p":3,"id":"d","x":250,"y":11.6},{"p":3,"id":"d","x":285,"y":11.55},{"p":3,"id":"d","x":300,"y":11.5},{"p":3,"id":"d","x":330,"y":11.55},{"p":3,"id":"d","x":360,"y":11.85},{"p":3,"id":"d","x":390,"y":12.1},{"p":3,"id":"d","x":430,"y":12.0},{"p":3,"id":"d","x":470,"y":11.9},{"p":3,"id":"d","x":485,"y":11.7},{"p":3,"id":"d","x":500,"y":11.3},{"p":3,"id":"d","x":520,"y":10.7},{"p":3,"id":"d","x":550,"y":10.0},{"p":3,"id":"d","x":580,"y":9.3},{"p":3,"id":"d","x":605,"y":8.6},
{"p":3,"id":"e","x":180,"y":8.5},{"p":3,"id":"e","x":205,"y":8.5},{"p":3,"id":"e","x":208,"y":8.6},{"p":3,"id":"e","x":212,"y":9.8},{"p":3,"id":"e","x":215,"y":11.0},{"p":3,"id":"e","x":218,"y":11.8},{"p":3,"id":"e","x":221,"y":12.1},{"p":3,"id":"e","x":228,"y":12.15},{"p":3,"id":"e","x":240,"y":11.9},{"p":3,"id":"e","x":260,"y":11.65},{"p":3,"id":"e","x":285,"y":11.6},{"p":3,"id":"e","x":300,"y":11.6},{"p":3,"id":"e","x":330,"y":11.6},{"p":3,"id":"e","x":360,"y":11.9},{"p":3,"id":"e","x":390,"y":12.15},{"p":3,"id":"e","x":430,"y":12.05},{"p":3,"id":"e","x":470,"y":11.95},{"p":3,"id":"e","x":485,"y":11.75},{"p":3,"id":"e","x":500,"y":11.35},{"p":3,"id":"e","x":520,"y":10.75},{"p":3,"id":"e","x":550,"y":10.05},{"p":3,"id":"e","x":580,"y":9.35},{"p":3,"id":"e","x":605,"y":8.75},
{"p":3,"id":"f","x":180,"y":8.45},{"p":3,"id":"f","x":188,"y":8.4},{"p":3,"id":"f","x":191,"y":8.2},{"p":3,"id":"f","x":199,"y":7.1},{"p":3,"id":"f","x":205,"y":6.3},{"p":3,"id":"f","x":215,"y":5.35},{"p":3,"id":"f","x":235,"y":4.95},{"p":3,"id":"f","x":253,"y":4.45},{"p":3,"id":"f","x":260,"y":4.35},{"p":3,"id":"f","x":270,"y":4.45},{"p":3,"id":"f","x":280,"y":4.7},{"p":3,"id":"f","x":287,"y":5.3},{"p":3,"id":"f","x":290.6,"y":5.5},
{"p":3,"id":"g","x":180,"y":8.5},{"p":3,"id":"g","x":215,"y":8.6},{"p":3,"id":"g","x":250,"y":9.6},{"p":3,"id":"g","x":281,"y":11.0},{"p":3,"id":"g","x":295.5,"y":10.2},{"p":3,"id":"g","x":313.5,"y":9.15},{"p":3,"id":"g","x":330,"y":8.8},{"p":3,"id":"g","x":360,"y":8.9},{"p":3,"id":"g","x":390,"y":9.15},{"p":3,"id":"g","x":430,"y":9.05},{"p":3,"id":"g","x":470,"y":8.9},{"p":3,"id":"g","x":485,"y":8.65},{"p":3,"id":"g","x":500,"y":8.25},{"p":3,"id":"g","x":520,"y":7.65},{"p":3,"id":"g","x":550,"y":6.85},{"p":3,"id":"g","x":580,"y":6.05},{"p":3,"id":"g","x":605,"y":5.35},
{"p":3,"id":"h","x":180,"y":8.4},{"p":3,"id":"h","x":215,"y":8.4},{"p":3,"id":"h","x":245,"y":8.45},{"p":3,"id":"h","x":250,"y":8.6},{"p":3,"id":"h","x":257,"y":10.0},{"p":3,"id":"h","x":263,"y":11.5},{"p":3,"id":"h","x":271.5,"y":12.2},{"p":3,"id":"h","x":280,"y":12.1},{"p":3,"id":"h","x":300,"y":11.8},{"p":3,"id":"h","x":330,"y":11.7},{"p":3,"id":"h","x":360,"y":11.9},{"p":3,"id":"h","x":390,"y":12.15},{"p":3,"id":"h","x":430,"y":12.05},{"p":3,"id":"h","x":470,"y":11.95},{"p":3,"id":"h","x":485,"y":11.75},{"p":3,"id":"h","x":500,"y":11.35},{"p":3,"id":"h","x":520,"y":10.75},{"p":3,"id":"h","x":550,"y":10.05},{"p":3,"id":"h","x":580,"y":9.35},{"p":3,"id":"h","x":605,"y":8.7},
{"p":3,"id":"i","x":180,"y":8.5},{"p":3,"id":"i","x":215,"y":8.7},{"p":3,"id":"i","x":225,"y":9.3},{"p":3,"id":"i","x":233,"y":9.5},{"p":3,"id":"i","x":238,"y":8.9},{"p":3,"id":"i","x":243,"y":7.3},{"p":3,"id":"i","x":248,"y":5.8},{"p":3,"id":"i","x":253,"y":5.35},{"p":3,"id":"i","x":260,"y":5.4},{"p":3,"id":"i","x":268,"y":6.0},{"p":3,"id":"i","x":275,"y":7.0},{"p":3,"id":"i","x":283,"y":8.2},{"p":3,"id":"i","x":290,"y":9.1},{"p":3,"id":"i","x":300,"y":9.3},{"p":3,"id":"i","x":330,"y":9.4},{"p":3,"id":"i","x":360,"y":9.6},{"p":3,"id":"i","x":390,"y":9.5},{"p":3,"id":"i","x":430,"y":9.3},{"p":3,"id":"i","x":470,"y":9.0},{"p":3,"id":"i","x":485,"y":8.7},{"p":3,"id":"i","x":500,"y":8.3},{"p":3,"id":"i","x":520,"y":7.7},{"p":3,"id":"i","x":550,"y":6.9},{"p":3,"id":"i","x":580,"y":6.1},{"p":3,"id":"i","x":605,"y":5.4},
{"p":3,"id":"j","x":180,"y":8.35},{"p":3,"id":"j","x":215,"y":8.3},{"p":3,"id":"j","x":235,"y":8.3},{"p":3,"id":"j","x":250,"y":6.8},{"p":3,"id":"j","x":262,"y":5.0},{"p":3,"id":"j","x":271.5,"y":4.0},{"p":3,"id":"j","x":281,"y":4.5},{"p":3,"id":"j","x":285,"y":4.8},{"p":3,"id":"j","x":288,"y":5.6},{"p":3,"id":"j","x":291,"y":7.0},{"p":3,"id":"j","x":294,"y":8.1},{"p":3,"id":"j","x":297,"y":8.5},{"p":3,"id":"j","x":305,"y":8.55},{"p":3,"id":"j","x":330,"y":8.55},{"p":3,"id":"j","x":360,"y":8.85},{"p":3,"id":"j","x":390,"y":9.15},{"p":3,"id":"j","x":430,"y":9.05},{"p":3,"id":"j","x":470,"y":8.9},{"p":3,"id":"j","x":485,"y":8.65},{"p":3,"id":"j","x":500,"y":8.25},{"p":3,"id":"j","x":520,"y":7.65},{"p":3,"id":"j","x":548,"y":6.9},{"p":3,"id":"j","x":552,"y":6.5},{"p":3,"id":"j","x":556,"y":5.5},{"p":3,"id":"j","x":561,"y":4.3},{"p":3,"id":"j","x":566,"y":3.6},{"p":3,"id":"j","x":572,"y":3.0},{"p":3,"id":"j","x":580,"y":2.4},{"p":3,"id":"j","x":590,"y":2.0},{"p":3,"id":"j","x":603,"y":1.6},
{"p":3,"id":"k","x":180,"y":8.45},{"p":3,"id":"k","x":200,"y":8.4},{"p":3,"id":"k","x":210,"y":7.5},{"p":3,"id":"k","x":220,"y":5.6},{"p":3,"id":"k","x":235,"y":4.9},{"p":3,"id":"k","x":255.9,"y":4.45},{"p":3,"id":"k","x":263,"y":6.3},{"p":3,"id":"k","x":271.5,"y":7.5},{"p":3,"id":"k","x":283.5,"y":8.3},{"p":3,"id":"k","x":290.6,"y":9.15},{"p":3,"id":"k","x":300,"y":9.5},{"p":3,"id":"k","x":320,"y":9.9},{"p":3,"id":"k","x":335,"y":10.6},{"p":3,"id":"k","x":343,"y":11.6},{"p":3,"id":"k","x":348,"y":11.9},{"p":3,"id":"k","x":355,"y":11.75},{"p":3,"id":"k","x":360,"y":11.85},{"p":3,"id":"k","x":390,"y":12.1},{"p":3,"id":"k","x":430,"y":12.0},{"p":3,"id":"k","x":470,"y":11.9},{"p":3,"id":"k","x":485,"y":11.7},{"p":3,"id":"k","x":500,"y":11.3},{"p":3,"id":"k","x":520,"y":10.7},{"p":3,"id":"k","x":550,"y":10.0},{"p":3,"id":"k","x":580,"y":9.3},{"p":3,"id":"k","x":605,"y":8.6},
{"p":3,"id":"l","x":180,"y":8.4},{"p":3,"id":"l","x":215,"y":8.45},{"p":3,"id":"l","x":250,"y":8.4},{"p":3,"id":"l","x":285,"y":8.45},{"p":3,"id":"l","x":300,"y":8.5},{"p":3,"id":"l","x":330,"y":8.55},{"p":3,"id":"l","x":360,"y":8.85},{"p":3,"id":"l","x":390,"y":9.15},{"p":3,"id":"l","x":430,"y":9.05},{"p":3,"id":"l","x":470,"y":8.9},{"p":3,"id":"l","x":485,"y":8.65},{"p":3,"id":"l","x":500,"y":8.5},{"p":3,"id":"l","x":520,"y":8.75},{"p":3,"id":"l","x":540,"y":8.7},{"p":3,"id":"l","x":571,"y":8.0},{"p":3,"id":"l","x":603,"y":7.3},
{"p":3,"id":"m","x":180,"y":8.5},{"p":3,"id":"m","x":215,"y":8.5},{"p":3,"id":"m","x":250,"y":8.45},{"p":3,"id":"m","x":285,"y":8.5},{"p":3,"id":"m","x":300,"y":8.55},{"p":3,"id":"m","x":330,"y":8.6},{"p":3,"id":"m","x":360,"y":8.9},{"p":3,"id":"m","x":390,"y":9.2},{"p":3,"id":"m","x":430,"y":9.1},{"p":3,"id":"m","x":470,"y":8.95},{"p":3,"id":"m","x":485,"y":8.7},{"p":3,"id":"m","x":500,"y":8.35},{"p":3,"id":"m","x":520,"y":8.4},{"p":3,"id":"m","x":540,"y":8.4},{"p":3,"id":"m","x":571,"y":7.8},{"p":3,"id":"m","x":603,"y":7.1},
{"p":3,"id":"n","x":180,"y":8.45},{"p":3,"id":"n","x":215,"y":8.45},{"p":3,"id":"n","x":250,"y":8.4},{"p":3,"id":"n","x":285,"y":8.45},{"p":3,"id":"n","x":300,"y":8.5},{"p":3,"id":"n","x":330,"y":8.55},{"p":3,"id":"n","x":360,"y":8.85},{"p":3,"id":"n","x":390,"y":9.15},{"p":3,"id":"n","x":430,"y":9.05},{"p":3,"id":"n","x":470,"y":8.9},{"p":3,"id":"n","x":485,"y":8.65},{"p":3,"id":"n","x":500,"y":8.25},{"p":3,"id":"n","x":520,"y":7.65},{"p":3,"id":"n","x":545,"y":7.0},{"p":3,"id":"n","x":550,"y":6.8},{"p":3,"id":"n","x":554,"y":6.2},{"p":3,"id":"n","x":558,"y":5.3},{"p":3,"id":"n","x":562,"y":4.6},{"p":3,"id":"n","x":567,"y":4.1},{"p":3,"id":"n","x":572,"y":3.6},{"p":3,"id":"n","x":579,"y":2.9},{"p":3,"id":"n","x":588,"y":2.1},{"p":3,"id":"n","x":596,"y":1.85},{"p":3,"id":"n","x":603,"y":1.9},
{"p":3,"id":"o","x":215,"y":8.35},{"p":3,"id":"o","x":250,"y":8.3},{"p":3,"id":"o","x":285,"y":8.35},{"p":3,"id":"o","x":300,"y":8.4},{"p":3,"id":"o","x":330,"y":8.45},{"p":3,"id":"o","x":360,"y":8.75},{"p":3,"id":"o","x":390,"y":9.05},{"p":3,"id":"o","x":430,"y":8.95},{"p":3,"id":"o","x":470,"y":8.8},{"p":3,"id":"o","x":485,"y":8.55},{"p":3,"id":"o","x":500,"y":8.15},{"p":3,"id":"o","x":520,"y":7.55},{"p":3,"id":"o","x":550,"y":6.85},{"p":3,"id":"o","x":556,"y":6.0},{"p":3,"id":"o","x":563,"y":4.8},{"p":3,"id":"o","x":570,"y":3.5},{"p":3,"id":"o","x":578,"y":2.6},{"p":3,"id":"o","x":590,"y":2.2},{"p":3,"id":"o","x":603,"y":2.0},
{"p":3,"id":"pp","x":180,"y":8.5},{"p":3,"id":"pp","x":215,"y":8.45},{"p":3,"id":"pp","x":250,"y":8.4},{"p":3,"id":"pp","x":285,"y":8.45},{"p":3,"id":"pp","x":300,"y":8.5},{"p":3,"id":"pp","x":330,"y":8.55},{"p":3,"id":"pp","x":360,"y":8.85},{"p":3,"id":"pp","x":390,"y":9.15},{"p":3,"id":"pp","x":430,"y":9.05},{"p":3,"id":"pp","x":470,"y":8.9},{"p":3,"id":"pp","x":485,"y":8.65},{"p":3,"id":"pp","x":500,"y":8.3},{"p":3,"id":"pp","x":520,"y":7.7},{"p":3,"id":"pp","x":550,"y":6.9},{"p":3,"id":"pp","x":580,"y":6.1},{"p":3,"id":"pp","x":605,"y":5.45}
]},
"vconcat":[
{"width":1295,"height":170,"title":"Trajectory – 1 of 3 parallel requests",
"layer":[
{"data":{"name":"minorx"},"mark":{"type":"rule","color":"#ebebeb","strokeWidth":0.55},"encoding":{"x":{"field":"x","type":"quantitative"}}},
{"data":{"name":"minory"},"mark":{"type":"rule","color":"#ebebeb","strokeWidth":0.55},"encoding":{"y":{"field":"y","type":"quantitative"}}},
{"data":{"name":"road"},"mark":{"type":"line","color":"#000000","strokeWidth":1.1,"interpolate":"monotone"},
"encoding":{"x":{"field":"x","type":"quantitative","scale":{"domain":[158.75,626.25],"nice":false,"zero":false},"axis":{"values":[200,300,400,500,600],"labelPadding":3.5}},
"y":{"field":"y","type":"quantitative","scale":{"domain":[-2.75,14.45],"nice":false,"zero":false},"axis":{"values":[0,5,10],"labelPadding":4}},
"detail":{"field":"id"}}},
{"data":{"name":"traj"},"transform":[{"filter":"datum.p == 1"}],"mark":{"type":"line","color":"#ff0000","opacity":0.6,"strokeWidth":1,"interpolate":"monotone"},
"encoding":{"x":{"field":"x","type":"quantitative"},"y":{"field":"y","type":"quantitative"},"detail":{"field":"id"}}},
{"data":{"name":"lanes"},"mark":{"type":"line","color":"#00ee00","strokeWidth":1.3,"strokeDash":[6,4],"interpolate":"monotone"},
"encoding":{"x":{"field":"x","type":"quantitative"},"y":{"field":"y","type":"quantitative"},"detail":{"field":"id"}}},
{"data":{"name":"vlines"},"mark":{"type":"rule","color":"#222222","strokeWidth":1,"strokeDash":[4,3]},
"encoding":{"x":{"field":"x","type":"quantitative"}}},
{"data":{"name":"notes"},"mark":{"type":"text","fontSize":10.2,"lineHeight":15,"lineBreak":"\n","align":"center","baseline":"middle","color":"#1a1a1a"},
"encoding":{"x":{"field":"x","type":"quantitative"},"y":{"field":"y","type":"quantitative"},"text":{"field":"t"}}}
]},
{"width":1295,"height":170,"title":"Path Planning – 1 of 3 parallel requests",
"layer":[
{"data":{"name":"minorx"},"mark":{"type":"rule","color":"#ebebeb","strokeWidth":0.55},"encoding":{"x":{"field":"x","type":"quantitative"}}},
{"data":{"name":"minory"},"mark":{"type":"rule","color":"#ebebeb","strokeWidth":0.55},"encoding":{"y":{"field":"y","type":"quantitative"}}},
{"data":{"name":"road"},"mark":{"type":"line","color":"#000000","strokeWidth":1.1,"interpolate":"monotone"},
"encoding":{"x":{"field":"x","type":"quantitative","scale":{"domain":[158.75,626.25],"nice":false,"zero":false},"axis":{"values":[200,300,400,500,600],"labelPadding":3.5}},
"y":{"field":"y","type":"quantitative","scale":{"domain":[-2.75,14.45],"nice":false,"zero":false},"axis":{"values":[0,5,10],"labelPadding":4}},
"detail":{"field":"id"}}},
{"data":{"name":"traj"},"transform":[{"filter":"datum.p == 2"}],"mark":{"type":"line","color":"#ff0000","opacity":0.6,"strokeWidth":1,"interpolate":"monotone"},
"encoding":{"x":{"field":"x","type":"quantitative"},"y":{"field":"y","type":"quantitative"},"detail":{"field":"id"}}},
{"data":{"name":"lanes"},"mark":{"type":"line","color":"#00ee00","strokeWidth":1.3,"strokeDash":[6,4],"interpolate":"monotone"},
"encoding":{"x":{"field":"x","type":"quantitative"},"y":{"field":"y","type":"quantitative"},"detail":{"field":"id"}}},
{"data":{"name":"vlines"},"mark":{"type":"rule","color":"#222222","strokeWidth":1,"strokeDash":[4,3]},
"encoding":{"x":{"field":"x","type":"quantitative"}}},
{"data":{"name":"notes"},"mark":{"type":"text","fontSize":10.2,"lineHeight":15,"lineBreak":"\n","align":"center","baseline":"middle","color":"#1a1a1a"},
"encoding":{"x":{"field":"x","type":"quantitative"},"y":{"field":"y","type":"quantitative"},"text":{"field":"t"}}}
]},
{"width":1295,"height":170,"title":"Waypoints – 1 of 3 parallel requests",
"layer":[
{"data":{"name":"minorx"},"mark":{"type":"rule","color":"#ebebeb","strokeWidth":0.55},"encoding":{"x":{"field":"x","type":"quantitative"}}},
{"data":{"name":"minory"},"mark":{"type":"rule","color":"#ebebeb","strokeWidth":0.55},"encoding":{"y":{"field":"y","type":"quantitative"}}},
{"data":{"name":"road"},"mark":{"type":"line","color":"#000000","strokeWidth":1.1,"interpolate":"monotone"},
"encoding":{"x":{"field":"x","type":"quantitative","scale":{"domain":[158.75,626.25],"nice":false,"zero":false},"axis":{"values":[200,300,400,500,600],"labelPadding":3.5}},
"y":{"field":"y","type":"quantitative","scale":{"domain":[-2.75,14.45],"nice":false,"zero":false},"axis":{"values":[0,5,10],"labelPadding":4}},
"detail":{"field":"id"}}},
{"data":{"name":"traj"},"transform":[{"filter":"datum.p == 3"}],"mark":{"type":"line","color":"#ff0000","opacity":0.6,"strokeWidth":1,"interpolate":"monotone"},
"encoding":{"x":{"field":"x","type":"quantitative"},"y":{"field":"y","type":"quantitative"},"detail":{"field":"id"}}},
{"data":{"name":"lanes"},"mark":{"type":"line","color":"#00ee00","strokeWidth":1.3,"strokeDash":[6,4],"interpolate":"monotone"},
"encoding":{"x":{"field":"x","type":"quantitative"},"y":{"field":"y","type":"quantitative"},"detail":{"field":"id"}}},
{"data":{"name":"vlines"},"mark":{"type":"rule","color":"#222222","strokeWidth":1,"strokeDash":[4,3]},
"encoding":{"x":{"field":"x","type":"quantitative"}}},
{"data":{"name":"notes"},"mark":{"type":"text","fontSize":10.2,"lineHeight":15,"lineBreak":"\n","align":"center","baseline":"middle","color":"#1a1a1a"},
"encoding":{"x":{"field":"x","type":"quantitative"},"y":{"field":"y","type":"quantitative"},"text":{"field":"t"}}}
]}
]
}
